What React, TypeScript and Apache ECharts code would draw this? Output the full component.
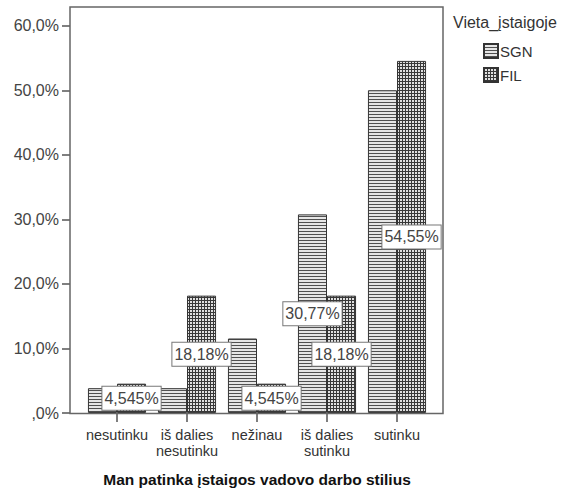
import React, { useEffect, useRef } from "react";
import * as echarts from "echarts";

const categories = ["nesutinku", "iš dalies\nnesutinku", "nežinau", "iš dalies\nsutinku", "sutinku"];
const sgnValues = [3.846, 3.846, 11.54, 30.77, 50.0];
const filValues = [4.545, 18.18, 4.545, 18.18, 54.55];
const sgnShowLabel = [false, false, false, true, false];
const filShowLabel = [true, true, true, true, true];
const yTicks = [0, 10, 20, 30, 40, 50, 60];

const FONT = "Arimo, 'Liberation Sans', Arial, sans-serif";

const sgnTile =
  "data:image/svg+xml;charset=utf-8," +
  encodeURIComponent(
    '<svg xmlns="http://www.w3.org/2000/svg" width="3" height="3"><rect width="3" height="3" fill="#e6e6e6"/><rect y="0" width="3" height="1" fill="#505050"/></svg>'
  );
const filTile =
  "data:image/svg+xml;charset=utf-8," +
  encodeURIComponent(
    '<svg xmlns="http://www.w3.org/2000/svg" width="3" height="3"><rect width="3" height="3" fill="#e0e0e0"/><rect y="0" width="3" height="1" fill="#383838"/><rect x="0" width="1" height="3" fill="#383838"/></svg>'
  );

const fmt = (v: number) => Number(v).toPrecision(4).replace(".", ",") + "%";

export default function App() {
  const ref = useRef<HTMLDivElement>(null);
  useEffect(() => {
    if (!ref.current) return;
    const chart = echarts.init(ref.current, undefined, { renderer: "svg" });
    const labelStyle = {
      position: "inside",
      formatter: (p: any) => fmt(p.value),
      backgroundColor: "#fff",
      borderColor: "#777",
      borderWidth: 1,
      padding: [4, 2, 3, 2],
      fontSize: 16,
      fontFamily: FONT,
      color: "#444",
    };
    const sgnPattern: any = { image: sgnTile, repeat: "repeat", imageWidth: 3, imageHeight: 3 };
    const filPattern: any = { image: filTile, repeat: "repeat", imageWidth: 3, imageHeight: 3 };
    chart.setOption({
      animation: false,
      backgroundColor: "#fff",
      grid: { left: 82, right: 137, top: 7, bottom: 81, containLabel: false },
      legend: {
        orient: "vertical",
        left: 478,
        top: 38,
        itemWidth: 14,
        itemHeight: 14,
        itemGap: 8,
        icon: "rect",
        textStyle: { fontSize: 15, fontFamily: FONT, color: "#333", padding: [0, 0, 0, -3] },
        data: ["SGN", "FIL"],
      },
      graphic: [
        {
          type: "rect",
          shape: { x: 70, y: 7, width: 373, height: 406.5 },
          style: { fill: "none", stroke: "#666", lineWidth: 1.5 },
          z: 10,
        },
        {
          type: "text",
          left: 453,
          top: 14,
          style: { text: "Vieta_įstaigoje", fontSize: 16, fontFamily: FONT, fill: "#333" },
        },
      ],
      xAxis: {
        type: "category",
        data: categories,
        axisLine: { show: false },
        axisTick: { show: true, alignWithLabel: true, length: 9, lineStyle: { color: "#555", width: 1.5 } },
        axisLabel: { fontSize: 14.5, fontFamily: FONT, color: "#333", margin: 14, lineHeight: 16, interval: 0 },
        name: "Man patinka įstaigos vadovo darbo stilius",
        nameLocation: "middle",
        nameGap: 58,
        nameTextStyle: { fontSize: 15.5, fontWeight: "bold", fontFamily: FONT, color: "#111" },
      },
      yAxis: {
        type: "value",
        min: 0,
        max: 62.9,
        interval: 10,
        offset: 12,
        axisLine: { show: false },
        axisTick: { show: true, length: 8, lineStyle: { color: "#555", width: 1.5 } },
        splitLine: { show: false },
        axisLabel: {
          fontSize: 16,
          fontFamily: FONT,
          color: "#444",
          margin: 11,
          showMaxLabel: false,
          formatter: (v: number) =>
            yTicks.includes(v) ? (v === 0 ? ",0%" : v.toFixed(1).replace(".", ",") + "%") : "",
        },
      },
      series: [
        {
          name: "SGN",
          type: "bar",
          barGap: "0%",
          barCategoryGap: "17%",
          itemStyle: { color: sgnPattern, borderColor: "#333", borderWidth: 1 },
          data: sgnValues.map((v, i) => ({ value: v, label: { show: sgnShowLabel[i], ...labelStyle } })),
        },
        {
          name: "FIL",
          type: "bar",
          barGap: "0%",
          barCategoryGap: "17%",
          itemStyle: { color: filPattern, borderColor: "#333", borderWidth: 1 },
          data: filValues.map((v, i) => ({ value: v, label: { show: filShowLabel[i], ...labelStyle } })),
        },
      ],
    } as any);
    return () => chart.dispose();
  }, []);
  return <div ref={ref} style={{ position: "absolute", left: 0, top: 0, width: 569, height: 494 }} />;
}
